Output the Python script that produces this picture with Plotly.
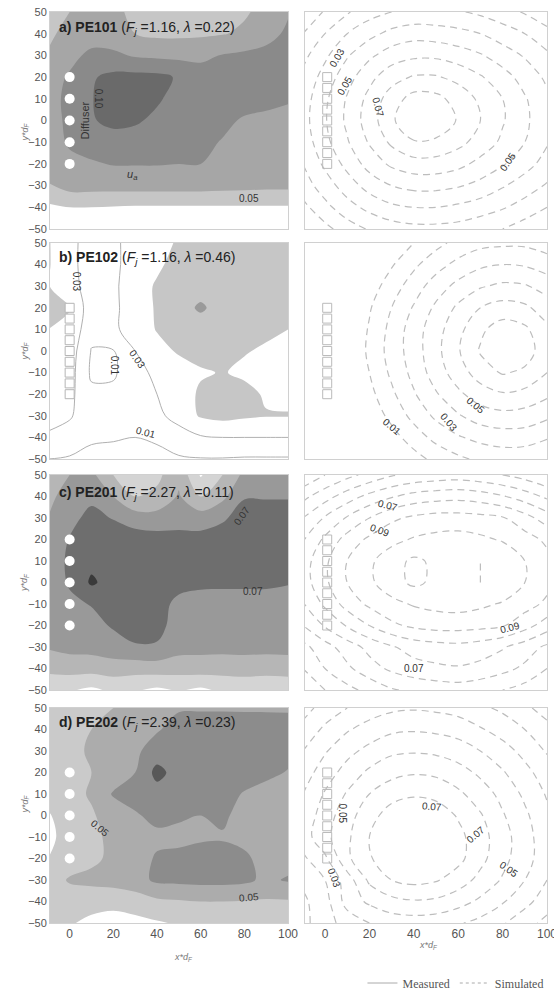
import plotly.graph_objects as go

# ---------------- data ----------------
x_grid = [-10, 0, 10, 20, 30, 40, 50, 60, 70, 80, 90, 100]
y_grid_top_down = [50, 40, 30, 20, 10, 0, -10, -20, -30, -40, -50]

# measured concentration fields (left column), rows from y=50 down to y=-50
meas_a = [
    [0.040, 0.050, 0.055, 0.055, 0.045, 0.040, 0.040, 0.042, 0.045, 0.048, 0.055, 0.068],
    [0.045, 0.058, 0.062, 0.058, 0.050, 0.046, 0.046, 0.047, 0.049, 0.053, 0.062, 0.074],
    [0.052, 0.065, 0.074, 0.074, 0.068, 0.066, 0.065, 0.066, 0.071, 0.074, 0.077, 0.080],
    [0.062, 0.072, 0.088, 0.095, 0.096, 0.095, 0.088, 0.078, 0.079, 0.080, 0.080, 0.080],
    [0.064, 0.074, 0.089, 0.100, 0.100, 0.093, 0.082, 0.079, 0.078, 0.077, 0.075, 0.072],
    [0.064, 0.073, 0.088, 0.096, 0.093, 0.085, 0.080, 0.078, 0.074, 0.068, 0.066, 0.064],
    [0.062, 0.072, 0.078, 0.080, 0.080, 0.079, 0.076, 0.074, 0.069, 0.062, 0.060, 0.060],
    [0.056, 0.066, 0.068, 0.071, 0.071, 0.071, 0.070, 0.070, 0.062, 0.058, 0.057, 0.057],
    [0.049, 0.058, 0.058, 0.058, 0.058, 0.058, 0.058, 0.058, 0.057, 0.056, 0.055, 0.055],
    [0.026, 0.030, 0.030, 0.029, 0.028, 0.028, 0.028, 0.028, 0.028, 0.028, 0.028, 0.028],
    [0.020, 0.020, 0.020, 0.020, 0.020, 0.020, 0.020, 0.020, 0.020, 0.020, 0.020, 0.020],
]
meas_b = [
    [0.052, 0.035, 0.022, 0.027, 0.036, 0.044, 0.052, 0.056, 0.058, 0.058, 0.057, 0.056],
    [0.052, 0.036, 0.020, 0.026, 0.038, 0.047, 0.056, 0.058, 0.058, 0.058, 0.058, 0.057],
    [0.051, 0.040, 0.018, 0.026, 0.042, 0.052, 0.058, 0.062, 0.060, 0.059, 0.058, 0.057],
    [0.056, 0.051, 0.018, 0.026, 0.040, 0.052, 0.062, 0.073, 0.062, 0.060, 0.058, 0.057],
    [0.050, 0.045, 0.016, 0.026, 0.040, 0.051, 0.058, 0.060, 0.058, 0.056, 0.053, 0.050],
    [0.046, 0.040, 0.009, 0.009, 0.030, 0.044, 0.052, 0.056, 0.054, 0.051, 0.048, 0.046],
    [0.044, 0.038, 0.007, 0.007, 0.024, 0.034, 0.042, 0.048, 0.051, 0.047, 0.045, 0.045],
    [0.040, 0.035, 0.014, 0.015, 0.022, 0.030, 0.040, 0.053, 0.058, 0.055, 0.048, 0.046],
    [0.035, 0.032, 0.018, 0.017, 0.018, 0.025, 0.038, 0.052, 0.056, 0.053, 0.051, 0.051],
    [0.028, 0.022, 0.012, 0.011, 0.010, 0.012, 0.020, 0.028, 0.030, 0.030, 0.030, 0.030],
    [0.010, 0.008, 0.006, 0.006, 0.006, 0.006, 0.008, 0.009, 0.009, 0.008, 0.008, 0.008],
]
meas_c = [
    [0.040, 0.050, 0.055, 0.030, 0.018, 0.025, 0.045, 0.008, 0.030, 0.055, 0.060, 0.060],
    [0.045, 0.058, 0.066, 0.050, 0.030, 0.035, 0.052, 0.030, 0.045, 0.069, 0.069, 0.069],
    [0.050, 0.065, 0.075, 0.069, 0.060, 0.058, 0.060, 0.060, 0.068, 0.076, 0.076, 0.076],
    [0.058, 0.071, 0.082, 0.082, 0.080, 0.078, 0.078, 0.077, 0.077, 0.080, 0.080, 0.080],
    [0.060, 0.073, 0.085, 0.085, 0.083, 0.082, 0.080, 0.080, 0.078, 0.078, 0.078, 0.078],
    [0.058, 0.072, 0.093, 0.082, 0.080, 0.078, 0.075, 0.073, 0.073, 0.073, 0.073, 0.071],
    [0.056, 0.066, 0.071, 0.078, 0.080, 0.076, 0.066, 0.064, 0.063, 0.063, 0.063, 0.063],
    [0.054, 0.060, 0.064, 0.072, 0.079, 0.076, 0.062, 0.060, 0.060, 0.060, 0.060, 0.060],
    [0.052, 0.056, 0.057, 0.062, 0.068, 0.068, 0.058, 0.056, 0.056, 0.056, 0.056, 0.056],
    [0.035, 0.038, 0.038, 0.040, 0.038, 0.040, 0.038, 0.040, 0.038, 0.040, 0.038, 0.040],
    [0.015, 0.012, 0.006, 0.014, 0.012, 0.006, 0.012, 0.006, 0.014, 0.014, 0.014, 0.014],
]
meas_d = [
    [0.040, 0.042, 0.045, 0.050, 0.058, 0.065, 0.068, 0.068, 0.068, 0.068, 0.068, 0.068],
    [0.042, 0.045, 0.050, 0.056, 0.062, 0.068, 0.078, 0.080, 0.080, 0.079, 0.078, 0.077],
    [0.042, 0.046, 0.052, 0.058, 0.066, 0.080, 0.082, 0.082, 0.080, 0.079, 0.078, 0.075],
    [0.040, 0.045, 0.050, 0.058, 0.070, 0.096, 0.082, 0.080, 0.078, 0.076, 0.074, 0.069],
    [0.038, 0.044, 0.052, 0.072, 0.077, 0.082, 0.080, 0.078, 0.075, 0.069, 0.064, 0.062],
    [0.028, 0.040, 0.048, 0.058, 0.068, 0.075, 0.072, 0.070, 0.074, 0.062, 0.058, 0.056],
    [0.025, 0.038, 0.045, 0.055, 0.062, 0.066, 0.066, 0.068, 0.068, 0.064, 0.060, 0.060],
    [0.030, 0.040, 0.046, 0.054, 0.062, 0.072, 0.074, 0.076, 0.078, 0.074, 0.062, 0.062],
    [0.040, 0.052, 0.055, 0.058, 0.062, 0.074, 0.075, 0.076, 0.076, 0.074, 0.066, 0.072],
    [0.036, 0.040, 0.038, 0.036, 0.040, 0.046, 0.048, 0.050, 0.050, 0.049, 0.048, 0.048],
    [0.032, 0.032, 0.025, 0.022, 0.024, 0.028, 0.032, 0.034, 0.034, 0.034, 0.034, 0.034],
]

# simulated concentration fields (right column), rows from y=50 down to y=-50
sim_a = [
    [0.002, 0.011, 0.019, 0.026, 0.030, 0.032, 0.032, 0.031, 0.028, 0.024, 0.019, 0.014],
    [0.010, 0.020, 0.030, 0.037, 0.043, 0.046, 0.045, 0.043, 0.040, 0.035, 0.030, 0.023],
    [0.017, 0.028, 0.039, 0.048, 0.055, 0.058, 0.058, 0.055, 0.051, 0.045, 0.039, 0.032],
    [0.022, 0.034, 0.046, 0.057, 0.066, 0.071, 0.071, 0.067, 0.061, 0.054, 0.046, 0.038],
    [0.025, 0.038, 0.051, 0.063, 0.075, 0.084, 0.083, 0.076, 0.068, 0.060, 0.051, 0.042],
    [0.026, 0.039, 0.052, 0.065, 0.078, 0.090, 0.088, 0.079, 0.070, 0.061, 0.052, 0.043],
    [0.024, 0.037, 0.049, 0.061, 0.072, 0.079, 0.078, 0.073, 0.066, 0.058, 0.050, 0.041],
    [0.020, 0.032, 0.043, 0.054, 0.062, 0.066, 0.066, 0.063, 0.057, 0.051, 0.044, 0.036],
    [0.015, 0.025, 0.035, 0.044, 0.050, 0.053, 0.053, 0.051, 0.047, 0.041, 0.035, 0.029],
    [0.007, 0.017, 0.026, 0.033, 0.038, 0.040, 0.040, 0.038, 0.035, 0.031, 0.026, 0.020],
    [-0.002, 0.007, 0.015, 0.021, 0.025, 0.027, 0.027, 0.026, 0.023, 0.020, 0.015, 0.010],
]
sim_b = [
    [-0.037, -0.027, -0.017, -0.008, 0.002, 0.010, 0.017, 0.023, 0.027, 0.028, 0.028, 0.025],
    [-0.032, -0.022, -0.011, -0.001, 0.009, 0.018, 0.026, 0.033, 0.038, 0.040, 0.039, 0.035],
    [-0.029, -0.017, -0.006, 0.005, 0.015, 0.025, 0.035, 0.043, 0.049, 0.052, 0.051, 0.046],
    [-0.026, -0.014, -0.003, 0.009, 0.020, 0.031, 0.042, 0.052, 0.060, 0.064, 0.062, 0.055],
    [-0.024, -0.012, 0.000, 0.011, 0.023, 0.035, 0.046, 0.057, 0.068, 0.075, 0.072, 0.062],
    [-0.024, -0.012, 0.000, 0.012, 0.024, 0.035, 0.047, 0.059, 0.071, 0.078, 0.075, 0.064],
    [-0.025, -0.013, -0.001, 0.010, 0.022, 0.033, 0.045, 0.055, 0.065, 0.071, 0.068, 0.060],
    [-0.027, -0.015, -0.004, 0.007, 0.018, 0.029, 0.039, 0.048, 0.055, 0.059, 0.057, 0.052],
    [-0.030, -0.019, -0.008, 0.003, 0.013, 0.023, 0.032, 0.039, 0.045, 0.047, 0.046, 0.042],
    [-0.034, -0.024, -0.013, -0.003, 0.006, 0.015, 0.023, 0.029, 0.033, 0.035, 0.035, 0.031],
    [-0.040, -0.030, -0.020, -0.010, -0.002, 0.006, 0.013, 0.018, 0.022, 0.024, 0.023, 0.020],
]
sim_c = [
    [0.021, 0.030, 0.037, 0.043, 0.049, 0.052, 0.054, 0.055, 0.053, 0.050, 0.046, 0.040],
    [0.037, 0.046, 0.055, 0.063, 0.069, 0.074, 0.076, 0.077, 0.075, 0.071, 0.065, 0.058],
    [0.050, 0.061, 0.071, 0.080, 0.088, 0.092, 0.094, 0.094, 0.093, 0.091, 0.084, 0.075],
    [0.059, 0.072, 0.084, 0.092, 0.097, 0.101, 0.103, 0.104, 0.102, 0.099, 0.094, 0.088],
    [0.065, 0.078, 0.090, 0.098, 0.106, 0.112, 0.108, 0.106, 0.110, 0.108, 0.100, 0.093],
    [0.065, 0.078, 0.090, 0.098, 0.106, 0.112, 0.108, 0.106, 0.110, 0.108, 0.100, 0.093],
    [0.059, 0.072, 0.084, 0.092, 0.097, 0.101, 0.103, 0.104, 0.102, 0.099, 0.094, 0.088],
    [0.050, 0.061, 0.071, 0.080, 0.088, 0.092, 0.094, 0.094, 0.093, 0.091, 0.084, 0.075],
    [0.037, 0.046, 0.055, 0.063, 0.069, 0.074, 0.076, 0.077, 0.075, 0.071, 0.065, 0.058],
    [0.030, 0.040, 0.048, 0.056, 0.062, 0.066, 0.068, 0.069, 0.067, 0.063, 0.058, 0.050],
    [0.021, 0.030, 0.037, 0.043, 0.049, 0.052, 0.054, 0.055, 0.053, 0.050, 0.046, 0.040],
]
sim_d = [
    [0.006, 0.014, 0.020, 0.025, 0.028, 0.029, 0.028, 0.026, 0.022, 0.018, 0.012, 0.006],
    [0.013, 0.022, 0.029, 0.034, 0.038, 0.039, 0.038, 0.036, 0.031, 0.026, 0.020, 0.013],
    [0.020, 0.029, 0.037, 0.043, 0.048, 0.049, 0.048, 0.045, 0.040, 0.034, 0.027, 0.019],
    [0.025, 0.035, 0.044, 0.052, 0.057, 0.059, 0.058, 0.054, 0.048, 0.041, 0.033, 0.025],
    [0.030, 0.041, 0.051, 0.060, 0.066, 0.069, 0.067, 0.062, 0.055, 0.047, 0.038, 0.029],
    [0.033, 0.045, 0.056, 0.066, 0.075, 0.076, 0.076, 0.069, 0.061, 0.051, 0.042, 0.032],
    [0.035, 0.047, 0.058, 0.070, 0.076, 0.076, 0.076, 0.073, 0.064, 0.054, 0.044, 0.034],
    [0.028, 0.038, 0.058, 0.069, 0.076, 0.076, 0.076, 0.073, 0.063, 0.053, 0.044, 0.034],
    [0.022, 0.030, 0.045, 0.062, 0.070, 0.073, 0.071, 0.065, 0.057, 0.049, 0.040, 0.030],
    [0.018, 0.026, 0.044, 0.052, 0.057, 0.059, 0.058, 0.054, 0.048, 0.041, 0.033, 0.025],
    [0.017, 0.026, 0.034, 0.040, 0.044, 0.045, 0.044, 0.041, 0.037, 0.031, 0.024, 0.017],
]

diffuser_ports_y = [-20, -10, 0, 10, 20]
diffuser_cells_y = [-20, -15, -10, -5, 0, 5, 10, 15, 20]

panel_names = ["a) PE101", "b) PE102", "c) PE201", "d) PE202"]
panel_Fj = ["1.16", "1.16", "2.27", "2.39"]
panel_lambda = ["0.22", "0.46", "0.11", "0.23"]

x_ticks = [0, 20, 40, 60, 80, 100]
y_ticks = [-50, -40, -30, -20, -10, 0, 10, 20, 30, 40, 50]

# contour labels (text, x, y, angle)
meas_labels = [
    [("0.05", 82, -36, 0), ("0.10", 13, 10, 90)],
    [("0.03", 3, 32, 90), ("0.01", 20.5, -7, 90), ("0.03", 31, -4, 55), ("0.01", 35, -37.5, 15)],
    [("0.07", 79, 31, -55), ("0.07", 84, -4, 0)],
    [("0.05", 14, -6, 40), ("0.05", 82, -38, -5)],
]
sim_labels = [
    [("0.03", 5.5, 29, -60), ("0.05", 9, 16, -60), ("0.07", 24, 6, 75), ("0.05", 82.5, -19, -55)],
    [("0.01", 30, -35, 40), ("0.03", 56, -33, 50), ("0.05", 68, -25, 40)],
    [("0.07", 28.5, 36, 15), ("0.09", 25, 24.4, 20), ("0.09", 83.5, -21, -15), ("0.07", 40, -40, 0)],
    [("0.05", 8, 1, 90), ("0.03", 4, -29, 70), ("0.07", 48, 4, 5), ("0.07", 68, -9, -40), ("0.05", 83, -25, 35)],
]

# ---------------- styling ----------------
FONT = "Liberation Sans, Arial, sans-serif"
fill_colors = [
    ["#ffffff", "#ffffff", "#c6c6c6", "#a6a6a6", "#8a8a8a", "#6a6a6a"],
    ["#ffffff", "#ffffff", "#ffffff", "#c6c6c6", "#9a9a9a", "#9a9a9a"],
    ["#ffffff", "#d4d4d4", "#b6b6b6", "#999999", "#6e6e6e", "#3a3a3a"],
    ["#ffffff", "#ffffff", "#cacaca", "#acacac", "#8c8c8c", "#585858"],
]
x_dom_left = [50 / 554, 288 / 554]
x_dom_right = [305 / 554, 547 / 554]
y_doms = [[1 - 229 / 993, 1 - 12 / 993], [1 - 459 / 993, 1 - 243 / 993],
          [1 - 690 / 993, 1 - 475 / 993], [1 - 923 / 993, 1 - 708 / 993]]
title_y = [42.6, 43, 41.6, 43]

y_grid = y_grid_top_down[::-1]
meas = [meas_a, meas_b, meas_c, meas_d]
sims = [sim_a, sim_b, sim_c, sim_d]

fig = go.Figure()
annotations = []
layout = {}

def axname(n):
    return ("x", "y") if n == 1 else (f"x{n}", f"y{n}")

for i in range(4):
    nl, nr = 2 * i + 1, 2 * i + 2
    xl, yl = axname(nl)
    xr, yr = axname(nr)
    cs = [[k / 5, c] for k, c in enumerate(fill_colors[i])]
    fig.add_trace(go.Contour(
        x=x_grid, y=y_grid, z=meas[i][::-1], xaxis=xl, yaxis=yl,
        contours=dict(start=0.01, end=0.09, size=0.02, coloring="fill"),
        colorscale=cs, showscale=False, line=dict(width=0, smoothing=1),
        hoverinfo="skip", showlegend=False))
    if i == 1:
        fig.add_trace(go.Contour(
            x=x_grid, y=y_grid, z=meas[i][::-1], xaxis=xl, yaxis=yl,
            contours=dict(start=0.01, end=0.03, size=0.02, coloring="none"),
            showscale=False, line=dict(width=1, color="#b0b0b0", smoothing=1),
            hoverinfo="skip", showlegend=False))
        fig.add_trace(go.Scatter(
            x=[0] * len(diffuser_cells_y), y=diffuser_cells_y, xaxis=xl, yaxis=yl,
            mode="markers", marker=dict(symbol="square", size=9, color="white",
                                        line=dict(color="#b5b5b5", width=1)),
            hoverinfo="skip", showlegend=False))
    else:
        fig.add_trace(go.Scatter(
            x=[0] * len(diffuser_ports_y), y=diffuser_ports_y, xaxis=xl, yaxis=yl,
            mode="markers", marker=dict(symbol="circle", size=10, color="white"),
            hoverinfo="skip", showlegend=False))
    # simulated
    fig.add_trace(go.Contour(
        x=x_grid, y=y_grid, z=sims[i][::-1], xaxis=xr, yaxis=yr,
        contours=dict(start=0.01, end=0.12, size=0.01, coloring="none"),
        showscale=False, line=dict(width=1.2, color="#bdbdbd", dash="7px,5px", smoothing=1),
        hoverinfo="skip", showlegend=False))
    fig.add_trace(go.Scatter(
        x=[1] * len(diffuser_cells_y), y=diffuser_cells_y, xaxis=xr, yaxis=yr,
        mode="markers", marker=dict(symbol="square-open", size=9, color="#bbbbbb",
                                    line=dict(width=1)),
        hoverinfo="skip", showlegend=False))

    bottom = (i == 3)
    common_x = dict(range=[-9, 100], showgrid=False, zeroline=False, showline=True,
                    mirror=True, linecolor="#d0d0d0", linewidth=1, tickvals=x_ticks,
                    ticks="", showticklabels=bottom, automargin=False,
                    ticklabeloverflow="allow",
                    tickfont=dict(family=FONT, size=12, color="#555555"))
    common_y = dict(range=[-50, 50], showgrid=False, zeroline=False, showline=True,
                    mirror=True, linecolor="#d0d0d0", linewidth=1, tickvals=y_ticks, ticks="",
                    automargin=False,
                    tickfont=dict(family=FONT, size=11, color="#555555"))
    kxl = "xaxis" if nl == 1 else f"xaxis{nl}"
    kyl = "yaxis" if nl == 1 else f"yaxis{nl}"
    layout[kxl] = dict(common_x, domain=x_dom_left, anchor=yl)
    layout[kyl] = dict(common_y, domain=y_doms[i], anchor=xl, showticklabels=True)
    layout[f"xaxis{nr}"] = dict(common_x, domain=x_dom_right, anchor=yr)
    layout[f"yaxis{nr}"] = dict(common_y, domain=y_doms[i], anchor=xr, showticklabels=False)

    title = (f"<b>{panel_names[i]}</b> (<i>F<sub>j</sub></i> ={panel_Fj[i]}, "
             f"<i>λ</i> ={panel_lambda[i]})")
    annotations.append(dict(xref=xl, yref=yl, x=-6, y=title_y[i], text=title,
                            showarrow=False, xanchor="left", yanchor="middle",
                            font=dict(family=FONT, size=14, color="#222222")))
    for (t, lx, ly, ang) in meas_labels[i]:
        annotations.append(dict(xref=xl, yref=yl, x=lx, y=ly, text=t, textangle=ang,
                                showarrow=False, font=dict(family=FONT, size=10, color="#333333")))
    for (t, lx, ly, ang) in sim_labels[i]:
        annotations.append(dict(xref=xr, yref=yr, x=lx, y=ly, text=t, textangle=ang,
                                showarrow=False, font=dict(family=FONT, size=10, color="#333333")))
    annotations.append(dict(xref="paper", yref="paper", x=17 / 554,
                            y=(y_doms[i][0] + y_doms[i][1]) / 2,
                            text="<i>y*d<sub>F</sub></i>", textangle=-90, showarrow=False,
                            font=dict(family=FONT, size=9, color="#777777")))

annotations.append(dict(xref="x", yref="y", x=7, y=0, text="Diffuser", textangle=-90,
                        showarrow=False, font=dict(family=FONT, size=11, color="#333333")))
annotations.append(dict(xref="x", yref="y", x=29, y=-25, text="<i>u<sub>a</sub></i>",
                        showarrow=False, font=dict(family=FONT, size=11, color="#333333")))
annotations.append(dict(xref="paper", yref="paper", x=172 / 554, y=1 - 965 / 993,
                        text="<i>x*d<sub>F</sub></i>", showarrow=False,
                        font=dict(family=FONT, size=9, color="#777777")))
annotations.append(dict(xref="paper", yref="paper", x=440 / 554, y=1 - 953 / 993,
                        text="<i>x*d<sub>F</sub></i>", showarrow=False,
                        font=dict(family=FONT, size=9, color="#777777")))

# legend entries
fig.add_trace(go.Scatter(x=[None], y=[None], xaxis="x8", yaxis="y8", mode="lines",
                         name="Measured", line=dict(color="#aaaaaa", width=1)))
fig.add_trace(go.Scatter(x=[None], y=[None], xaxis="x8", yaxis="y8", mode="lines",
                         name="Simulated", line=dict(color="#aaaaaa", width=1, dash="3px,3px")))

fig.update_layout(
    width=554, height=993, margin=dict(l=0, r=0, t=0, b=0, autoexpand=False),
    paper_bgcolor="white", plot_bgcolor="white",
    annotations=annotations,
    showlegend=True,
    legend=dict(orientation="h", x=0.99, xanchor="right", y=1 - 983 / 993, yanchor="middle",
                font=dict(family="Liberation Serif, Times New Roman, serif", size=12, color="#555555"),
                bgcolor="rgba(0,0,0,0)", itemwidth=30),
    **layout,
)

fig.write_html("out.html", config={"displayModeBar": False},
               post_script="document.body.style.margin='0';document.body.style.overflow='hidden';")
